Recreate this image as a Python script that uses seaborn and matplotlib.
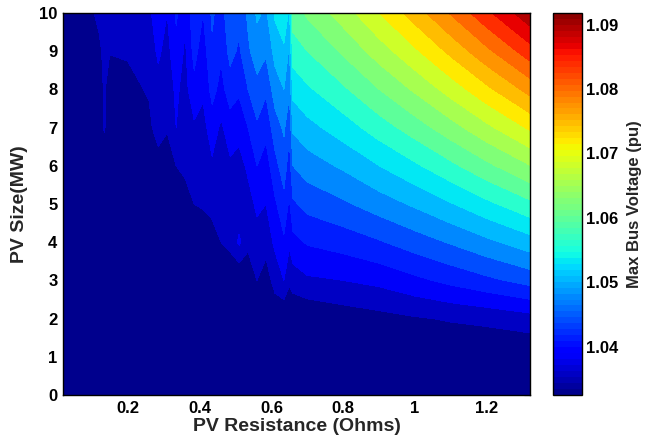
import numpy as np
import matplotlib
matplotlib.use("Agg")
import matplotlib.pyplot as plt
from matplotlib.colors import ListedColormap, Normalize
from matplotlib.cm import ScalarMappable
import seaborn as sns

# ==============================
# Data
# ==============================

pv_size = [0, 1, 2, 3, 4, 5, 6, 7, 8, 9, 10]

# noisy part, small resistances
left_resistance = [0.02, 0.1, 0.12, 0.135, 0.15, 0.2, 0.26]
left_voltage = [
    [1.0325] * 11,
    [1.0325] * 10 + [1.035],
    [1.0325] * 9 + [1.0345, 1.0365],
    [1.0325] * 7 + [1.036, 1.0362, 1.0365, 1.037],
    [1.0325] * 9 + [1.0358, 1.0368],
    [1.0325] * 8 + [1.0335, 1.0362, 1.037],
    [1.0325] * 7 + [1.034, 1.0362, 1.037, 1.038],
]

# streaky part
streak_resistance = [0.285, 0.31, 0.335, 0.36, 0.385, 0.41, 0.435, 0.46, 0.485,
                     0.51, 0.535, 0.56, 0.585, 0.61, 0.635, 0.65]
streak_voltage = [
    [1.0325] * 7 + [1.0385, 1.0375, 1.039, 1.040],
    [1.0325] * 7 + [1.036, 1.037, 1.0375, 1.0385],
    [1.0325] * 6 + [1.0355, 1.0385, 1.039, 1.0405, 1.042],
    [1.0325] * 6 + [1.037, 1.037, 1.0375, 1.038, 1.039],
    [1.0325] * 5 + [1.0355, 1.0365, 1.038, 1.0405, 1.0425, 1.0435],
    [1.0325] * 5 + [1.036, 1.0365, 1.0375, 1.039, 1.040, 1.0415],
    [1.0325] * 5 + [1.0375, 1.038, 1.040, 1.0425, 1.044, 1.045],
    [1.0325] * 4 + [1.0355, 1.036, 1.0365, 1.038, 1.0405, 1.042, 1.043],
    [1.0325] * 4 + [1.0365, 1.037, 1.038, 1.040, 1.043, 1.0455, 1.047],
    [1.0325] * 4 + [1.039, 1.0365, 1.0375, 1.0395, 1.042, 1.044, 1.0455],
    [1.0325] * 4 + [1.0365, 1.0375, 1.039, 1.0415, 1.0445, 1.047, 1.048],
    [1.0325] * 3 + [1.0355, 1.0375, 1.039, 1.0415, 1.044, 1.0465, 1.049, 1.051],
    [1.0325] * 3 + [1.0335, 1.037, 1.0385, 1.040, 1.0425, 1.045, 1.048, 1.050],
    [1.0325] * 3 + [1.037, 1.039, 1.041, 1.0435, 1.046, 1.049, 1.0515, 1.054],
    [1.0325] * 3 + [1.0385, 1.041, 1.0435, 1.046, 1.048, 1.0505, 1.053, 1.0555],
    [1.0325] * 3 + [1.036, 1.039, 1.041, 1.043, 1.045, 1.048, 1.050, 1.053],
]

# smooth part, large resistances
right_resistance = [0.66, 0.7, 0.8, 0.9, 1.0, 1.1, 1.2, 1.32]
right_voltage = [
    [1.0325, 1.0325, 1.0325, 1.037, 1.0405, 1.044, 1.0475, 1.051, 1.0545, 1.058, 1.061],
    [1.0325, 1.0325, 1.0328, 1.038, 1.0418, 1.0455, 1.049, 1.0525, 1.056, 1.0595, 1.063],
    [1.0325, 1.0325, 1.0338, 1.0385, 1.0428, 1.047, 1.051, 1.055, 1.059, 1.063, 1.067],
    [1.0325, 1.0325, 1.0345, 1.0393, 1.0442, 1.049, 1.0535, 1.058, 1.0625, 1.067, 1.0715],
    [1.0325, 1.0325, 1.0352, 1.0408, 1.046, 1.051, 1.056, 1.061, 1.066, 1.071, 1.076],
    [1.0325, 1.0325, 1.0358, 1.0423, 1.0478, 1.0533, 1.0588, 1.0643, 1.0698, 1.0753, 1.0808],
    [1.0325, 1.0325, 1.0363, 1.0438, 1.0498, 1.0558, 1.0618, 1.0678, 1.0738, 1.0798, 1.0858],
    [1.0325, 1.0325, 1.0373, 1.0456, 1.0522, 1.0588, 1.0654, 1.072, 1.0786, 1.0852, 1.0918],
]

x_ticks = [0.2, 0.4, 0.6, 0.8, 1.0, 1.2]
x_tick_labels = ["0.2", "0.4", "0.6", "0.8", "1", "1.2"]
y_ticks = [0, 1, 2, 3, 4, 5, 6, 7, 8, 9, 10]
cbar_ticks = [1.04, 1.05, 1.06, 1.07, 1.08, 1.09]

# ==============================
# Style
# ==============================

sns.set_theme(style="white")
plt.rcParams["font.family"] = ["Liberation Sans", "DejaVu Sans"]
plt.rcParams["font.weight"] = "bold"

jet64 = ListedColormap(sns.mpl_palette("jet", 64))


def main():
    x = left_resistance + streak_resistance + right_resistance
    z = np.array(left_voltage + streak_voltage + right_voltage).T
    zmin, zmax = z.min(), z.max()
    step = 0.003
    levels = np.arange(zmin, zmax + step, step)

    fig = plt.figure(figsize=(6.52, 4.42), dpi=100)
    ax = fig.add_axes([0.0966, 0.1063, 0.7164, 0.8643])
    cax = fig.add_axes([0.848, 0.1063, 0.0445, 0.8643])

    # MATLAB colours each band by its lower level
    norm = Normalize(vmin=zmin + step / 2, vmax=zmax + step / 2)
    ax.contourf(x, pv_size, z, levels=levels, cmap=jet64, norm=norm,
                antialiased=False)

    ax.set_xlim(x[0], x[-1])
    ax.set_ylim(0, 10)
    ax.set_xticks(x_ticks)
    ax.set_xticklabels(x_tick_labels)
    ax.set_yticks(y_ticks)
    ax.tick_params(direction="in", length=4, width=0.8, top=True, right=True,
                   labelsize=12, colors="black", pad=4)
    for lab in ax.get_xticklabels() + ax.get_yticklabels():
        lab.set_fontweight("bold")
    for s in ax.spines.values():
        s.set_color("black")
        s.set_linewidth(1.0)

    ax.set_xlabel("PV Resistance (Ohms)", fontsize=14, fontweight="bold", labelpad=2)
    ax.set_ylabel("PV Size(MW)", fontsize=14, fontweight="bold", labelpad=8)

    sm = ScalarMappable(norm=Normalize(vmin=zmin, vmax=zmax), cmap=jet64)
    cb = fig.colorbar(sm, cax=cax)
    cb.set_ticks(cbar_ticks)
    cb.ax.tick_params(direction="in", length=3, width=0.8, left=True, right=True,
                      labelsize=12, colors="black", pad=3)
    for lab in cb.ax.get_yticklabels():
        lab.set_fontweight("bold")
    cb.outline.set_edgecolor("black")
    cb.outline.set_linewidth(1.0)
    cb.set_label("Max Bus Voltage (pu)", fontsize=12, fontweight="bold", labelpad=6)

    fig.savefig("out.png", dpi=100, facecolor="white")
    plt.close(fig)


if __name__ == "__main__":
    main()
